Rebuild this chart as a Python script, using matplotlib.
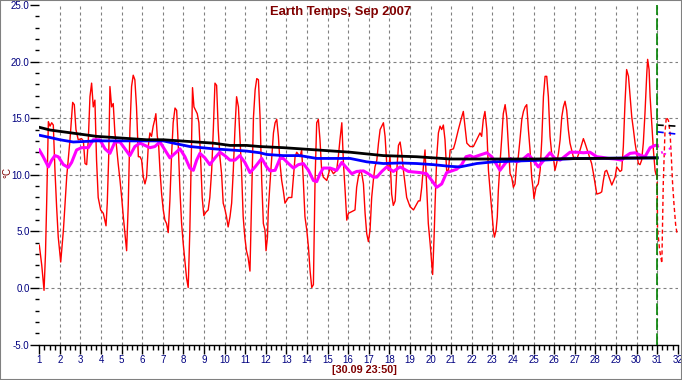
import matplotlib
matplotlib.use('Agg')
from matplotlib import pyplot as plt
from matplotlib.patches import Rectangle
from matplotlib.ticker import MultipleLocator, FormatStrFormatter

plt.rcParams['font.family'] = ['Liberation Sans', 'DejaVu Sans']

title = 'Earth Temps, Sep 2007'
stamp = '[30.09 23:50]'
unit = '°C'

# hourly temperature (day of month, °C)
red_days = [1.00, 1.12, 1.23, 1.30, 1.36, 1.44, 1.52, 1.60, 1.68, 1.76, 1.84, 1.92, 2.04, 2.17, 2.33, 2.49,
            2.62, 2.70, 2.78, 2.89, 3.05, 3.14, 3.22, 3.30, 3.38, 3.46, 3.54, 3.62, 3.70, 3.78, 3.86, 3.98,
            4.11, 4.24, 4.30, 4.37, 4.43, 4.51, 4.59, 4.67, 4.75, 4.83, 4.92, 5.00, 5.08, 5.16, 5.24, 5.32,
            5.40, 5.48, 5.56, 5.64, 5.72, 5.81, 5.89, 5.97, 6.05, 6.13, 6.21, 6.29, 6.37, 6.45, 6.53, 6.61,
            6.66, 6.73, 6.79, 6.86, 6.94, 7.02, 7.10, 7.18, 7.26, 7.34, 7.42, 7.50, 7.59, 7.67, 7.75, 7.83,
            7.91, 7.99, 8.07, 8.15, 8.23, 8.31, 8.39, 8.44, 8.51, 8.59, 8.67, 8.75, 8.83, 8.91, 8.99, 9.09,
            9.20, 9.28, 9.37, 9.45, 9.53, 9.61, 9.69, 9.77, 9.85, 9.93, 10.01, 10.09, 10.17, 10.26, 10.34, 10.42,
            10.50, 10.58, 10.67, 10.74, 10.82, 10.90, 10.98, 11.06, 11.14, 11.23, 11.31, 11.40, 11.48, 11.56, 11.64, 11.72,
            11.80, 11.88, 11.96, 12.01, 12.08, 12.12, 12.20, 12.29, 12.37, 12.45, 12.53, 12.61, 12.69, 12.77, 12.85, 12.93,
            13.10, 13.26, 13.34, 13.42, 13.50, 13.66, 13.74, 13.82, 13.90, 13.99, 14.07, 14.15, 14.23, 14.31, 14.39, 14.47,
            14.55, 14.63, 14.71, 14.79, 14.96, 15.12, 15.28, 15.44, 15.52, 15.60, 15.69, 15.77, 15.85, 15.93, 16.01, 16.33,
            16.41, 16.49, 16.58, 16.66, 16.74, 16.82, 16.90, 16.98, 17.06, 17.14, 17.22, 17.30, 17.39, 17.47, 17.55, 17.71,
            17.79, 17.87, 17.95, 18.03, 18.11, 18.19, 18.28, 18.36, 18.44, 18.52, 18.60, 18.68, 18.76, 18.84, 19.00, 19.17,
            19.41, 19.49, 19.57, 19.65, 19.73, 19.81, 19.89, 19.98, 20.06, 20.10, 20.17, 20.22, 20.30, 20.38, 20.46, 20.54,
            20.62, 20.70, 20.78, 20.87, 20.95, 21.11, 21.19, 21.35, 21.51, 21.59, 21.67, 21.76, 21.92, 22.08, 22.24, 22.40,
            22.48, 22.56, 22.64, 22.73, 22.81, 22.89, 22.97, 23.05, 23.10, 23.18, 23.24, 23.29, 23.37, 23.45, 23.53, 23.62,
            23.70, 23.78, 23.86, 23.94, 24.02, 24.10, 24.18, 24.26, 24.34, 24.43, 24.51, 24.59, 24.67, 24.75, 24.83, 24.91,
            24.99, 25.02, 25.12, 25.23, 25.32, 25.40, 25.48, 25.56, 25.64, 25.72, 25.80, 25.88, 25.96, 26.04, 26.12, 26.21,
            26.29, 26.37, 26.45, 26.53, 26.61, 26.69, 26.77, 26.85, 26.93, 27.10, 27.26, 27.42, 27.50, 27.66, 27.82, 27.91,
            27.99, 28.07, 28.23, 28.31, 28.39, 28.47, 28.55, 28.72, 28.80, 28.96, 29.04, 29.20, 29.28, 29.36, 29.44, 29.52,
            29.61, 29.69, 29.77, 29.85, 29.93, 30.01, 30.09, 30.17, 30.25, 30.33, 30.41, 30.50, 30.54, 30.61, 30.66, 30.74,
            30.82, 30.90, 30.95, 31.00]
red_vals = [3.8, 2.0, -0.2, 3.0, 7.7, 14.7, 14.3, 14.6, 14.4, 10.4, 7.2, 4.5, 2.3, 5.1, 9.8, 13.1,
            16.4, 16.2, 14.0, 13.1, 13.2, 13.0, 11.0, 10.9, 13.1, 16.9, 18.1, 16.0, 16.6, 11.3, 8.0, 6.9,
            6.6, 5.5, 7.5, 11.6, 17.8, 16.0, 16.3, 13.7, 12.5, 11.0, 9.5, 8.0, 6.3, 4.8, 3.3, 7.4,
            14.0, 17.8, 18.8, 18.4, 16.0, 11.6, 11.6, 11.3, 9.8, 9.2, 9.8, 12.5, 13.7, 13.4, 14.3, 14.9,
            15.4, 13.4, 12.8, 10.4, 8.3, 6.9, 6.0, 5.7, 4.9, 7.7, 11.6, 14.6, 15.9, 15.7, 12.5, 8.6,
            5.7, 3.9, 2.4, 0.9, 0.05, 5.1, 12.5, 17.7, 16.0, 15.7, 15.4, 14.6, 11.6, 8.0, 6.4, 6.7,
            6.9, 8.0, 10.4, 14.0, 18.1, 17.9, 14.0, 11.6, 10.1, 7.5, 7.0, 6.3, 5.4, 6.3, 7.5, 10.4,
            14.0, 16.9, 16.0, 13.4, 10.4, 6.3, 4.5, 3.3, 2.7, 1.5, 8.0, 15.1, 17.5, 18.5, 18.4, 15.1,
            9.5, 5.7, 5.1, 3.3, 4.5, 6.9, 9.2, 11.6, 13.7, 14.6, 14.9, 13.4, 11.0, 9.5, 8.6, 7.5,
            8.0, 8.0, 9.8, 11.6, 12.0, 11.6, 12.2, 9.5, 6.3, 5.1, 3.6, 1.5, 0.05, 0.3, 9.5, 14.6,
            14.9, 13.1, 10.4, 9.8, 9.5, 10.6, 10.1, 10.4, 11.6, 13.1, 14.6, 11.0, 8.6, 6.0, 6.6, 6.9,
            8.9, 9.8, 10.4, 10.1, 9.2, 6.6, 4.8, 4.1, 5.1, 8.0, 9.5, 10.7, 11.3, 12.8, 14.0, 14.6,
            13.4, 11.0, 10.4, 11.6, 8.3, 7.3, 7.7, 10.4, 12.6, 12.9, 11.9, 10.4, 9.2, 8.0, 7.2, 6.9,
            7.7, 7.7, 8.9, 10.7, 12.2, 8.9, 5.7, 3.9, 2.1, 1.2, 4.5, 7.5, 11.6, 13.7, 14.3, 14.0,
            14.4, 13.1, 10.4, 10.4, 12.2, 12.3, 12.8, 14.0, 15.1, 15.6, 14.3, 12.8, 12.5, 12.5, 13.1, 13.7,
            13.4, 14.9, 15.6, 14.0, 10.4, 8.6, 6.9, 5.1, 4.5, 5.1, 6.3, 8.6, 11.0, 13.1, 15.4, 16.2,
            15.1, 12.5, 10.1, 9.8, 8.9, 9.2, 11.0, 11.6, 13.1, 14.9, 15.6, 16.0, 16.2, 14.0, 12.2, 9.8,
            8.6, 7.9, 8.9, 9.2, 10.4, 13.1, 16.9, 18.7, 18.7, 16.9, 13.4, 11.9, 11.6, 10.4, 11.0, 11.9,
            13.1, 15.1, 16.0, 16.5, 15.7, 14.0, 12.8, 12.2, 11.6, 11.4, 12.2, 13.2, 12.8, 11.9, 11.0, 10.1,
            9.2, 8.3, 8.4, 8.5, 9.5, 10.3, 10.4, 9.5, 9.1, 9.8, 10.7, 10.3, 10.4, 12.5, 16.3, 19.3,
            18.7, 16.9, 15.1, 14.0, 12.8, 11.9, 11.0, 10.9, 11.3, 12.8, 15.4, 19.0, 20.2, 19.3, 16.9, 14.6,
            12.2, 10.4, 10.0, 10.0]

black_days = [1.0, 1.52, 2.16, 2.97, 3.78, 4.59, 5.40, 6.21, 7.02, 7.83, 8.64, 9.45, 10.26, 11.06, 11.71,
              12.85, 14.47, 16.09, 17.71, 19.33, 20.95, 22.40, 25.0, 28.0, 31.0]
black_vals = [14.2, 13.96, 13.8, 13.6, 13.4, 13.3, 13.2, 13.1, 13.1, 13.0, 12.9, 12.8, 12.6, 12.6, 12.5,
              12.4, 12.2, 12.0, 11.7, 11.6, 11.4, 11.4, 11.4, 11.45, 11.5]

blue_days = [1.0, 1.52, 2.0, 2.65, 3.78, 5.40, 7.02, 7.51, 8.31, 9.45, 10.26, 11.06, 11.71, 12.04, 12.85,
             13.66, 14.47, 16.09, 16.9, 17.71, 18.52, 19.33, 20.14, 20.95, 21.43, 22.24, 23.05, 25.48, 27.1, 31.0]
blue_vals = [13.5, 13.3, 13.1, 12.9, 13.0, 13.0, 13.0, 12.8, 12.5, 12.3, 12.2, 12.1, 11.95, 11.8, 11.7,
             11.7, 11.45, 11.45, 11.15, 11.0, 11.05, 11.0, 10.9, 10.75, 10.7, 11.0, 11.15, 11.3, 11.45, 11.5]

magenta_days = [1.0, 1.19, 1.44, 1.60, 1.76, 1.92, 2.17, 2.41, 2.57, 2.81, 3.05, 3.38, 3.62, 3.94, 4.19, 4.43,
                4.67, 4.92, 5.16, 5.40, 5.64, 5.89, 6.13, 6.37, 6.61, 6.86, 7.10, 7.34, 7.59, 7.83, 8.07, 8.31,
                8.48, 8.64, 8.80, 9.04, 9.28, 9.53, 9.77, 10.01, 10.26, 10.50, 10.74, 10.98, 11.23, 11.48, 11.80, 12.04,
                12.20, 12.45, 12.69, 12.85, 13.10, 13.34, 13.58, 13.82, 14.07, 14.31, 14.47, 14.63, 14.79, 15.12, 15.44, 15.69,
                15.93, 16.17, 16.41, 16.74, 16.98, 17.22, 17.39, 17.63, 17.87, 18.19, 18.52, 18.92, 19.49, 19.81, 20.06, 20.30,
                20.54, 20.78, 21.03, 21.27, 21.51, 21.72, 21.92, 22.08, 22.40, 22.73, 22.97, 23.21, 23.37, 23.62, 23.86, 24.18,
                24.43, 24.75, 24.99, 25.23, 25.48, 25.80, 26.04, 26.29, 26.53, 26.77, 27.10, 27.42, 27.74, 28.07, 28.31, 28.63,
                28.96, 29.28, 29.44, 29.69, 29.93, 30.17, 30.41, 30.66, 30.90, 31.00]
magenta_vals = [12.2, 11.6, 10.7, 11.3, 11.7, 11.6, 10.9, 10.65, 11.1, 12.2, 12.4, 12.4, 13.1, 13.1, 12.3, 11.9,
                12.9, 12.9, 12.3, 11.7, 12.5, 12.8, 12.6, 12.4, 12.5, 12.9, 12.2, 11.5, 11.9, 12.3, 11.6, 10.6,
                10.4, 11.3, 11.9, 11.5, 10.9, 11.5, 12.0, 11.7, 11.3, 11.3, 11.7, 11.1, 10.2, 10.7, 11.45, 10.7,
                10.35, 10.4, 11.45, 11.45, 11.0, 10.6, 10.9, 11.0, 10.4, 9.5, 9.4, 10.1, 10.6, 10.6, 10.4, 11.1,
                10.6, 10.1, 10.3, 10.35, 10.1, 9.8, 9.8, 10.3, 10.7, 10.3, 10.7, 10.3, 10.2, 10.1, 9.5, 8.9,
                9.2, 10.2, 10.35, 10.5, 10.9, 11.6, 11.7, 11.55, 11.75, 11.95, 11.6, 10.9, 10.4, 11.0, 11.45, 11.15,
                11.3, 11.8, 11.3, 10.7, 11.25, 11.95, 11.45, 11.3, 11.65, 12.0, 12.0, 11.95, 12.0, 11.6, 11.55, 11.45,
                11.4, 11.3, 11.6, 11.9, 11.95, 11.75, 11.6, 12.4, 12.6, 12.6]

# forecast part after the last reading (dashed)
fc_red_days = [31.00, 31.02, 31.12, 31.23, 31.30, 31.38, 31.45, 31.55, 31.63, 31.69, 31.75, 31.82, 31.90, 31.96]
fc_red_vals = [10.0, 5.3, 3.4, 2.2, 9.3, 13.7, 15.1, 14.8, 13.7, 11.6, 9.3, 7.4, 5.6, 4.9]
fc_black_days = [31.0, 31.95]
fc_black_vals = [14.4, 14.3]
fc_blue_days = [31.0, 31.95]
fc_blue_vals = [13.8, 13.6]
fc_magenta_days = [31.0, 31.2, 31.3, 31.45, 31.65, 31.9]
fc_magenta_vals = [12.6, 12.2, 11.6, 12.0, 12.4, 12.4]

now_day = 31

W, H = 682, 380
fig = plt.figure(figsize=(W / 100, H / 100), dpi=100)
fig.patch.set_facecolor('white')
ax = fig.add_axes([39.3 / W, 1 - 344.7 / H, 638.4 / W, 339.7 / H])
ax.set_xlim(1, 32)
ax.set_ylim(-5, 25)

# grid
grid_kw = dict(color='#808080', lw=0.8, dashes=(2.7, 2.7), zorder=1)
for d in range(2, 32):
    ax.axvline(d, **grid_kw)
for v in range(0, 25, 5):
    ax.axhline(v, **grid_kw)

ax.plot(red_days, red_vals, color='#ff0000', lw=1.0, zorder=2)
ax.plot(magenta_days, magenta_vals, color='#ff00ff', lw=2.2, zorder=3)
ax.plot(blue_days, blue_vals, color='#0000ff', lw=2.0, zorder=4)
ax.plot(black_days, black_vals, color='black', lw=2.0, zorder=5)

ax.plot(fc_red_days, fc_red_vals, color='#ff0000', lw=1.0, dashes=(3, 2), zorder=2)
ax.plot(fc_magenta_days, fc_magenta_vals, color='#ff00ff', lw=1.2, dashes=(1.5, 3), zorder=3)
ax.plot(fc_blue_days, fc_blue_vals, color='#0000ff', lw=1.2, dashes=(4, 3), zorder=4)
ax.plot(fc_black_days, fc_black_vals, color='black', lw=1.2, dashes=(4, 3), zorder=5)

ax.axvline(now_day, color='#008000', lw=1.2, dashes=(7, 2), zorder=6)

for s in ['top', 'right', 'left']:
    ax.spines[s].set_visible(False)
ax.spines['bottom'].set_linewidth(1.0)

ax.xaxis.set_major_locator(MultipleLocator(1))
ax.xaxis.set_minor_locator(MultipleLocator(0.25))
ax.yaxis.set_major_locator(MultipleLocator(5))
ax.yaxis.set_minor_locator(MultipleLocator(1))
ax.yaxis.set_major_formatter(FormatStrFormatter('%.1f'))

ax.tick_params(axis='x', which='major', length=6.2, width=1.0, pad=1.5,
               labelsize=7, labelcolor='#000080')
ax.tick_params(axis='x', which='minor', length=3.4, width=1.0)
ax.tick_params(axis='y', which='major', length=6.5, width=1.0, pad=0.5,
               labelsize=7, labelcolor='#000080')
ax.tick_params(axis='y', which='minor', length=2.9, width=1.0)

fig.text(0.5, 1 - 12.5 / H, title, ha='center', va='center', fontsize=9.4,
         fontweight='bold', color='#800000')
fig.text(364 / W, 1 - 370 / H, stamp, ha='center', va='center', fontsize=7.8,
         fontweight='bold', color='#800000')
fig.text(7 / W, 1 - 173 / H, unit, ha='center', va='center', fontsize=7,
         rotation=90, color='#800000')

fig.patches.append(Rectangle((0, 0), 1, 1, transform=fig.transFigure, fill=False,
                             edgecolor='#808080', lw=1.5))

fig.savefig('out.png', dpi=100)
